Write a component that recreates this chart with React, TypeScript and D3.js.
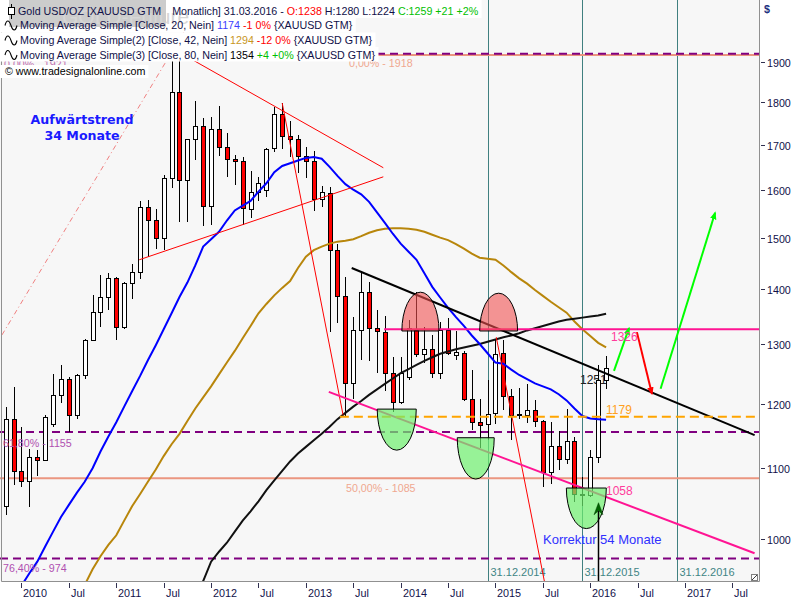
import React, { useRef, useEffect } from "react";
import * as d3 from "d3";

const width = 800;
const height = 600;
const plotRight = 759;
const plotBottom = 581;
const font = "'Liberation Sans', Arial, sans-serif";

// Monatskerzen: Index -2 = Nov 2009 ... Index 74 = Mär 2016
const firstMonth = -2;
const opens = [
  1045, 1176, 1096, 1081, 1116, 1112, 1167, 1214, 1241, 1181, 1247, 1307,
  1358, 1385, 1420, 1331, 1411, 1433, 1564, 1536, 1499, 1625, 1826, 1621,
  1713, 1744, 1565, 1737, 1695, 1667, 1664, 1559, 1596, 1600, 1692, 1771,
  1720, 1713, 1675, 1663, 1580, 1593, 1475, 1387, 1234, 1325, 1395, 1328,
  1322, 1251, 1203, 1243, 1325, 1283, 1291, 1250, 1325, 1281, 1285, 1207,
  1171, 1167, 1184, 1284, 1212, 1183, 1182, 1189, 1172, 1095, 1133, 1113,
  1141, 1063, 1061, 1117, 1238,
];
const highs = [
  1195, 1227, 1162, 1128, 1127, 1182, 1249, 1264, 1243, 1248, 1308, 1388,
  1427, 1431, 1423, 1413, 1447, 1575, 1577, 1560, 1632, 1912, 1921, 1695,
  1803, 1763, 1764, 1791, 1727, 1676, 1672, 1640, 1628, 1692, 1789, 1797,
  1755, 1722, 1695, 1685, 1607, 1606, 1488, 1423, 1349, 1434, 1414, 1361,
  1350, 1278, 1278, 1343, 1395, 1331, 1315, 1339, 1346, 1323, 1288, 1255,
  1207, 1239, 1307, 1307, 1224, 1225, 1232, 1205, 1173, 1170, 1157, 1191,
  1147, 1087, 1127, 1263, 1280,
];
const lows = [
  1033, 1075, 1072, 1044, 1088, 1110, 1162, 1201, 1155, 1176, 1241, 1306,
  1331, 1360, 1307, 1326, 1382, 1418, 1462, 1478, 1475, 1604, 1531, 1532,
  1665, 1523, 1526, 1675, 1628, 1611, 1526, 1540, 1575, 1585, 1684, 1691,
  1673, 1636, 1626, 1554, 1564, 1321, 1338, 1180, 1208, 1272, 1270, 1250,
  1221, 1187, 1200, 1238, 1277, 1268, 1242, 1240, 1281, 1272, 1204, 1158,
  1131, 1142, 1167, 1190, 1142, 1176, 1169, 1162, 1073, 1077, 1098, 1106,
  1051, 1045, 1058, 1107, 1224,
];
const closes = [
  1176, 1096, 1081, 1116, 1112, 1179, 1214, 1241, 1181, 1247, 1307, 1358,
  1385, 1420, 1331, 1411, 1433, 1564, 1536, 1499, 1625, 1826, 1621, 1713,
  1744, 1565, 1737, 1695, 1667, 1664, 1561, 1596, 1614, 1690, 1771, 1720,
  1714, 1675, 1663, 1580, 1596, 1475, 1387, 1234, 1325, 1395, 1328, 1323,
  1251, 1203, 1250, 1328, 1283, 1291, 1250, 1325, 1284, 1286, 1207, 1171,
  1166, 1183, 1282, 1212, 1182, 1183, 1189, 1172, 1095, 1133, 1113, 1141,
  1063, 1061, 1116, 1238, 1259,
];

// gleitende Durchschnitte
const ma20Start = 0;
const ma20 = [
  939, 955, 970, 990, 1010, 1030, 1047, 1064, 1080, 1100,
  1125, 1148, 1170, 1195, 1220, 1245, 1272, 1298, 1326, 1355,
  1385, 1412, 1445, 1482, 1497, 1512, 1535, 1556, 1566, 1576,
  1596, 1614, 1638, 1652, 1658, 1664, 1670, 1672, 1668, 1650,
  1630, 1612, 1600, 1590, 1574, 1552, 1530, 1508, 1488, 1472,
  1456, 1430, 1404, 1384, 1365, 1348, 1332, 1315, 1300, 1284,
  1268, 1266, 1256, 1247, 1240, 1233, 1228, 1223, 1215, 1205,
  1192, 1180, 1176, 1175, 1174,
];
const ma42Start = 8;
const ma42 = [
  940, 960, 977, 992, 1005, 1025, 1045, 1062, 1080, 1098,
  1118, 1136, 1152, 1172, 1192, 1210, 1228, 1248, 1268, 1288,
  1310, 1332, 1355, 1372, 1388, 1402, 1415, 1440, 1462, 1475,
  1482, 1488, 1492, 1494, 1497, 1503, 1510, 1515, 1518, 1519,
  1519, 1518, 1516, 1512, 1506, 1500, 1495, 1487, 1478, 1468,
  1460, 1458, 1456, 1445, 1432, 1420, 1410, 1398, 1387, 1376,
  1366, 1356, 1340, 1326, 1314, 1302, 1294,
];
const ma80Start = 22;
const ma80 = [
  925, 945, 970, 983, 995, 1010, 1025, 1038, 1052, 1068,
  1082, 1096, 1110, 1122, 1132, 1142, 1152, 1163, 1175, 1185,
  1195, 1204, 1214, 1223, 1232, 1241, 1250, 1257, 1264, 1271,
  1277, 1283, 1287, 1291, 1294, 1297, 1300, 1304, 1308, 1312,
  1315, 1319, 1324, 1328, 1332, 1336, 1340, 1343, 1345, 1347,
  1349, 1351, 1354,
];

const yTicks = [1000, 1100, 1200, 1300, 1400, 1500, 1600, 1700, 1800, 1900];
const xTickLabels = [
  "2010", "Jul", "2011", "Jul", "2012", "Jul", "2013", "Jul",
  "2014", "Jul", "2015", "Jul", "2016", "Jul", "2017", "Jul",
];

// Fibonacci / Niveaus
const fibPurple = [1921, 1155, 974];
const fibSalmon = [1918, 1085];
const resistance = 1326;
const resistanceFrom = 45.9;
const support = 1179;
const supportFrom = 40.3;

// Trendlinien [Monat, Kurs]
const uptrendDashDot = [[-2.47, 1316], [21.3, 2005]];
const triangleUpper = [[21.7, 1905], [45.8, 1648]];
const triangleLower = [[14.9, 1456], [45.8, 1628]];
const dropLine1 = [[33, 1798], [40.7, 1182]];
const dropLine2 = [[60.1, 1312], [66.4, 934]];
const downtrend = [[41.8, 1440], [92.8, 1150]];
const channelLow = [[38.9, 1219], [92.8, 981]];

// Halbellipsen [Mitte, halbe Breite in Monaten, Basis, Scheitel]
const tops = [[50.5, 2.35, 1323, 1394], [60.4, 2.4, 1323, 1392]];
const bottoms = [[47.5, 2.47, 1191, 1127], [57.5, 2.34, 1146, 1084], [71.5, 2.53, 1071, 1014]];

const arrowUp1 = [[75, 1254], [76.9, 1328]];
const arrowDown = [[77.9, 1321], [79.8, 1216]];
const arrowUp2 = [[80.9, 1224], [87.8, 1551]];
const signalMonth = 73;
const signalPrice = 1050;

const dateLineMonths = [59, 71, 83];
const dateLineLabels = ["31.12.2014", "31.12.2015", "31.12.2016"];

export default function App() {
  const ref = useRef<SVGSVGElement>(null);

  useEffect(() => {
    if (!ref.current) return;
    const svg = d3.select(ref.current);
    svg.selectAll("*").remove();
    svg.style("font-family", font);

    const x = d3.scaleLinear().domain([-2.72, 93.23]).range([0, 758]);
    const y = d3.scaleLog().domain([1000, 1900]).range([539, 62]);
    const line = d3.line<number[]>().x(d => x(d[0])).y(d => y(d[1]));

    const defs = svg.append("defs");
    defs.append("clipPath").attr("id", "plot-clip")
      .append("rect").attr("width", plotRight).attr("height", plotBottom);
    const marker = (id: string, color: string) =>
      defs.append("marker").attr("id", id)
        .attr("viewBox", "0 0 10 10").attr("refX", 8).attr("refY", 5)
        .attr("markerWidth", 8).attr("markerHeight", 8)
        .attr("markerUnits", "userSpaceOnUse").attr("orient", "auto")
        .append("path").attr("d", "M0,1L10,5L0,9Z").attr("fill", color);
    marker("arrow-green", "#00ff00");
    marker("arrow-red", "#ff0000");

    svg.append("rect").attr("width", width).attr("height", height).attr("fill", "#ffffff");
    svg.append("rect").attr("width", plotRight).attr("height", plotBottom).attr("fill", "#f7f7f7");

    const plot = svg.append("g").attr("clip-path", "url(#plot-clip)");

    // Stichtage
    dateLineMonths.forEach((m, i) => {
      const xx = Math.round(x(m)) + 0.5;
      plot.append("line").attr("x1", xx).attr("x2", xx).attr("y1", 0).attr("y2", plotBottom)
        .attr("stroke", "#408080").attr("stroke-width", 1);
      plot.append("text").attr("x", xx + 2).attr("y", 576).attr("font-size", 11)
        .attr("fill", "#3f8585").text(dateLineLabels[i]);
    });

    // Fibonacci-Linien
    fibSalmon.forEach(p => {
      plot.append("line").attr("x1", 0).attr("x2", plotRight).attr("y1", y(p)).attr("y2", y(p))
        .attr("stroke", "#eb9680").attr("stroke-width", 2);
    });
    fibPurple.forEach(p => {
      plot.append("line").attr("x1", 0).attr("x2", plotRight).attr("y1", y(p)).attr("y2", y(p))
        .attr("stroke", "#800080").attr("stroke-width", 2).attr("stroke-dasharray", "8,5");
    });

    plot.append("text").attr("x", 580).attr("y", y(1251) + 11).attr("font-size", 12)
      .attr("fill", "#202020").text("1251");

    // Kerzen
    const candles = opens.map((o, i) => ({
      m: firstMonth + i, o, h: highs[i], l: lows[i], c: closes[i],
    }));
    const cg = plot.append("g").attr("shape-rendering", "crispEdges");
    candles.forEach(d => {
      const r = Math.round(x(d.m));
      cg.append("line").attr("x1", r + 0.5).attr("x2", r + 0.5)
        .attr("y1", y(d.h)).attr("y2", y(d.l)).attr("stroke", "#000");
      const top = Math.round(y(Math.max(d.o, d.c)));
      const bot = Math.round(y(Math.min(d.o, d.c)));
      cg.append("rect").attr("x", r - 1.5).attr("y", top + 0.5)
        .attr("width", 4).attr("height", Math.max(1, bot - top))
        .attr("fill", d.c >= d.o ? "#ffffff" : "#ff0000").attr("stroke", "#000");
    });

    // gleitende Durchschnitte
    const maLine = (vals: number[], start: number, color: string) =>
      plot.append("path").datum(vals.map((v, i) => [start + i, v]))
        .attr("d", line).attr("fill", "none").attr("stroke", color).attr("stroke-width", 2);
    maLine(ma42, ma42Start, "#b8860b");
    maLine(ma80, ma80Start, "#111111");
    maLine(ma20, ma20Start, "#0000ff");

    // Trendlinien
    plot.append("path").datum(uptrendDashDot).attr("d", line).attr("fill", "none")
      .attr("stroke", "#f08080").attr("stroke-width", 1).attr("stroke-dasharray", "5,3,1,3");
    [triangleUpper, triangleLower, dropLine1, dropLine2].forEach(seg => {
      plot.append("path").datum(seg).attr("d", line).attr("fill", "none")
        .attr("stroke", "#ff0000").attr("stroke-width", 1);
    });
    plot.append("path").datum(channelLow).attr("d", line).attr("fill", "none")
      .attr("stroke", "#ff1493").attr("stroke-width", 2);
    plot.append("path").datum(downtrend).attr("d", line).attr("fill", "none")
      .attr("stroke", "#000").attr("stroke-width", 2);
    plot.append("line").attr("x1", x(resistanceFrom)).attr("x2", plotRight)
      .attr("y1", y(resistance)).attr("y2", y(resistance))
      .attr("stroke", "#ff1493").attr("stroke-width", 2);
    plot.append("line").attr("x1", x(supportFrom)).attr("x2", plotRight)
      .attr("y1", y(support)).attr("y2", y(support))
      .attr("stroke", "#ffa500").attr("stroke-width", 2).attr("stroke-dasharray", "9,5");

    // Halbellipsen
    const half = (d: number[], upper: boolean, fill: string, op: number) => {
      const cx = x(d[0]);
      const rx = x(d[0] + d[1]) - cx;
      const base = y(d[2]);
      const ry = Math.abs(y(d[3]) - base);
      plot.append("path")
        .attr("d", `M${cx - rx},${base}A${rx},${ry} 0 0 ${upper ? 1 : 0} ${cx + rx},${base}Z`)
        .attr("fill", fill).attr("fill-opacity", op).attr("stroke", "#000").attr("stroke-width", 1);
    };
    tops.forEach(d => half(d, true, "#f05050", 0.6));
    bottoms.forEach(d => half(d, false, "#6ef06e", 0.7));

    // Pfeile
    const arrow = (seg: number[][], color: string, id: string) =>
      plot.append("path").datum(seg).attr("d", line).attr("fill", "none")
        .attr("stroke", color).attr("stroke-width", 2).attr("marker-end", `url(#${id})`);
    arrow(arrowUp1, "#00ff00", "arrow-green");
    arrow(arrowDown, "#ff0000", "arrow-red");
    arrow(arrowUp2, "#00ff00", "arrow-green");

    const sx = Math.round(x(signalMonth)) + 0.5;
    const sy = y(signalPrice);
    plot.append("line").attr("x1", sx).attr("x2", sx).attr("y1", sy + 8).attr("y2", plotBottom)
      .attr("stroke", "#000").attr("stroke-width", 1.5);
    plot.append("path")
      .attr("d", `M${sx},${sy}L${sx - 4.5},${sy + 12}L${sx},${sy + 8}L${sx + 4.5},${sy + 12}Z`)
      .attr("fill", "#006400").attr("stroke", "#004000").attr("stroke-width", 0.5);

    // Beschriftungen
    const label = (tx: number, ty: number, txt: string, color: string, size = 10.7) =>
      plot.append("text").attr("x", tx).attr("y", ty).attr("font-size", size)
        .attr("fill", color).text(txt);
    label(4, y(fibPurple[0]) + 14, "0,00% - 1921", "#c070b0");
    label(3, y(fibPurple[1]) + 15, "61,80% - 1155", "#b050b0");
    label(3, y(fibPurple[2]) + 13.5, "76,40% - 974", "#b050b0");
    label(349, y(fibSalmon[0]) + 12.5, "0,00% - 1918", "#f0a890");
    label(346, y(fibSalmon[1]) + 13.5, "50,00% - 1085", "#f0a890");
    label(611, y(resistance) + 12, "1326", "#ff3c9c", 12);
    label(606, y(support) - 3, "1179", "#ffa020", 12);
    label(606, y(1058) - 2, "1058", "#ff3c9c", 12);
    label(543, 544, "Korrektur 54 Monate", "#3030ff", 13);

    const up = plot.append("text").attr("text-anchor", "middle")
      .attr("font-family", "'DejaVu Sans', Verdana, sans-serif").attr("font-weight", "bold")
      .attr("font-size", 12.6).attr("fill", "#1a1aff");
    up.append("tspan").attr("x", 82).attr("y", 124).text("Aufwärtstrend");
    up.append("tspan").attr("x", 82).attr("y", 139.5).text("34 Monate");

    // Rahmen
    svg.append("path")
      .attr("d", `M1.5,0V${plotBottom + 0.5}H${plotRight + 0.5}V0`)
      .attr("fill", "none").attr("stroke", "#909090").attr("stroke-width", 1);
    const ic = svg.append("g").attr("transform", `translate(751,574)`);
    ic.append("rect").attr("x", 0.5).attr("y", 0.5).attr("width", 6).attr("height", 6)
      .attr("fill", "#fff").attr("stroke", "#808080");
    ic.append("line").attr("x1", 1).attr("y1", 6).attr("x2", 6).attr("y2", 1).attr("stroke", "#404040");

    // Y-Achse
    const ya = svg.append("g");
    yTicks.forEach(t => {
      const yy = Math.round(y(t)) + 0.5;
      ya.append("line").attr("x1", 761).attr("x2", 765).attr("y1", yy).attr("y2", yy).attr("stroke", "#303050");
      ya.append("text").attr("x", 767).attr("y", yy + 4).attr("font-size", 10.7)
        .attr("fill", "#10104a").text(String(t));
    });
    ya.append("text").attr("x", 764).attr("y", 13).attr("font-size", 10.7)
      .attr("fill", "#203080").attr("font-weight", "bold").text("$");

    // X-Achse
    const xa = svg.append("g");
    xTickLabels.forEach((t, i) => {
      const xx = Math.round(x(i * 6)) + 0.5;
      xa.append("line").attr("x1", xx).attr("x2", xx).attr("y1", 583).attr("y2", 588).attr("stroke", "#303050");
      xa.append("text").attr("x", xx + 1.5).attr("y", 596.5).attr("font-size", 10.8)
        .attr("fill", "#10104a").text(t);
    });

    // Legende
    const navy = "#101048";
    const legend = svg.append("g").attr("font-size", 10.7);
    const boxes = legend.append("g");
    const tab = legend.append("g");
    const texts = legend.append("g");
    const rows: { x: number; y: number; top: number; bottom: number; parts: [string, string, number?][] }[] = [
      { x: 18, y: 14.5, top: 0, bottom: 18, parts: [
        ["Gold USD/OZ [XAUUSD GTM", navy], ["Monatlich] 31.03.2016 - ", navy, 11],
        ["O:1238", "#ff0000"], [" H:1280 L:1224 ", navy], ["C:1259 +21 +2%", "#00c000"]] },
      { x: 20, y: 29, top: 18, bottom: 32.5, parts: [
        ["Moving Average Simple [Close, 20, Nein] ", navy], ["1174", "#3c3cff"],
        [" -1 0%", "#ff0000"], [" {XAUUSD GTM}", navy]] },
      { x: 20, y: 44, top: 32.5, bottom: 47, parts: [
        ["Moving Average Simple(2) [Close, 42, Nein] ", navy], ["1294", "#c8961e"],
        [" -12 0%", "#ff0000"], [" {XAUUSD GTM}", navy]] },
      { x: 20, y: 58.5, top: 47, bottom: 61.5, parts: [
        ["Moving Average Simple(3) [Close, 80, Nein] ", navy], ["1354", "#000000"],
        [" +4 +0%", "#00c000"], [" {XAUUSD GTM}", navy]] },
      { x: 5, y: 75, top: 65, bottom: 78, parts: [["© www.tradesignalonline.com", "#000000"]] },
    ];
    rows.forEach((row, ri) => {
      const t = texts.append("text").attr("x", row.x).attr("y", row.y);
      row.parts.forEach(([s, c, dx]) => {
        const ts = t.append("tspan").attr("fill", c).text(s);
        if (dx) ts.attr("dx", dx);
      });
      const bb = (t.node() as SVGTextElement).getBBox();
      boxes.append("rect").attr("x", 0).attr("y", row.top)
        .attr("width", bb.x + bb.width + 3).attr("height", row.bottom - row.top).attr("fill", "#ffffff");
      if (ri >= 1 && ri <= 3) {
        texts.append("path")
          .attr("d", `M5,${row.y - 3.5}c1.5,-6 4,-6 6,0s4.5,6 6,0`)
          .attr("fill", "none").attr("stroke", "#000").attr("stroke-width", 1.1);
      }
    });
    tab.append("rect").attr("x", 9).attr("y", 0).attr("width", 157).attr("height", 27).attr("fill", "#cccccc");
    tab.append("text").attr("x", 62).attr("y", 24).attr("font-size", 21).attr("fill", "#d6d6d6")
      .text("GOLD-Future");
    const icon = texts.append("g").attr("shape-rendering", "crispEdges");
    icon.append("line").attr("x1", 11.5).attr("x2", 11.5).attr("y1", 4).attr("y2", 19).attr("stroke", "#000");
    icon.append("rect").attr("x", 8.5).attr("y", 7.5).attr("width", 6).attr("height", 7)
      .attr("fill", "#fff").attr("stroke", "#000");
  }, []);

  return (
    <div>
      <style>{`body{margin:0}`}</style>
      <svg ref={ref} width={width} height={height} style={{ display: "block" }} />
    </div>
  );
}
